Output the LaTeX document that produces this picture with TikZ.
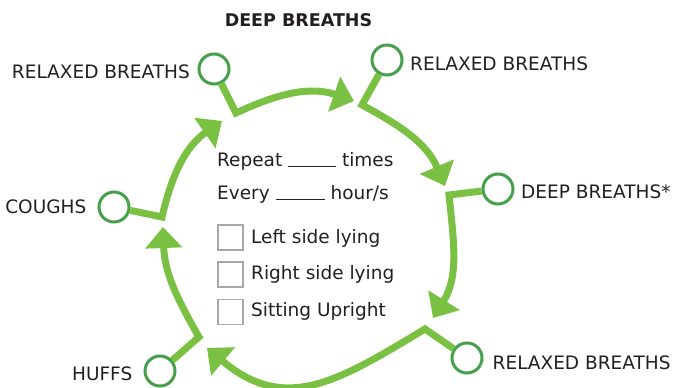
\documentclass[tikz,border=0pt]{standalone}
\usepackage{fontspec}
\setmainfont{DejaVu Sans}
\usetikzlibrary{arrows.meta, positioning}
\definecolor{leaf}{HTML}{7AC143}
\definecolor{moss}{HTML}{46A04A}
\definecolor{ink}{HTML}{231F20}
\definecolor{boxgray}{HTML}{A8A8A8}
\tikzset{flow/.style = {leaf, line width=7pt, line join=miter, -{Triangle[length=21pt, width=36pt]}}}
\tikzset{stage/.style = {circle, draw=moss, line width=3pt, minimum size=30pt, inner sep=0pt}}
\tikzset{lbl/.style = {inner sep=0pt, text=ink, font=\fontsize{18.5}{22}\selectfont}}
\tikzset{chkbox/.style = {draw=boxgray, line width=1.5pt, minimum size=25pt, inner sep=0pt}}

\begin{document}
\begin{tikzpicture}[x=1pt, y=1pt]
\useasboundingbox (0,0) rectangle (673,388);
% stages round the cycle
\node[stage] (c1) at (214,319) {};
\node[stage] (c2) at (387,328) {};
\node[stage] (c3) at (498,199) {};
\node[stage] (c4) at (467,30) {};
\node[stage] (c5) at (160,17) {};
\node[stage] (c6) at (114,181) {};
\coordinate (k1) at (236,275);
\coordinate (k2) at (362,283);
\coordinate (k3) at (449,193);
\coordinate (k4) at (425,59);
\coordinate (k5) at (199,51);
\coordinate (k6) at (162,171);
\coordinate (t1) at (354,287);
\coordinate (t2) at (445,202);
\coordinate (t3) at (433,70);
\coordinate (t4) at (207,40);
\coordinate (t5) at (163,161);
\coordinate (t6) at (222,267);
% arrows
\draw[flow] (c1) -- (k1) to[out=25, in=161] (t1);
\draw[flow] (c2) -- (k2) to[out=-28, in=113] (t2);
\draw[flow] (c3) -- (k3) to[out=-84, in=58] (t3);
\draw[flow] (c4) -- (k4) to[out=211, in=-40, looseness=1.2] (t4);
\draw[flow] (c5) -- (k5) to[out=120, in=-88] (t5);
\draw[flow] (c6) -- (k6) to[out=77, in=215] (t6);
% labels
\node[lbl, font=\fontsize{17.5}{21}\selectfont\bfseries] (title) at (298.5,368) {DEEP BREATHS};
\node[lbl, left=7.5pt of c1, yshift=-3pt] (l1) {RELAXED BREATHS};
\node[lbl, right=6.5pt of c2, yshift=-4pt] (l2) {RELAXED BREATHS};
\node[lbl, right=6.5pt of c3, yshift=-3pt] (l3) {DEEP BREATHS*};
\node[lbl, right=9pt of c4, yshift=-5pt] (l4) {RELAXED BREATHS};
\node[lbl, left=11pt of c5, yshift=-3pt] (l5) {HUFFS};
\node[lbl, left=11pt of c6] (l6) {COUGHS};
% middle
\node[lbl, anchor=base west] (rep) at (217,221) {Repeat \rule[-0.3pt]{48pt}{1.2pt} times};
\node[lbl, anchor=base west] (evy) at (217,188.5) {Every \rule[-0.3pt]{49pt}{1.2pt} hour/s};
\node[chkbox] (b1) at (230.7,150.6) {};
\node[chkbox] (b2) at (230.7,113.3) {};
\node[chkbox] (b3) at (230.7,76) {};
\node[lbl, anchor=base west] (o1) at (251,144) {Left side lying};
\node[lbl, anchor=base west] (o2) at (251,108) {Right side lying};
\node[lbl, anchor=base west] (o3) at (251,71.3) {Sitting Upright};
\end{tikzpicture}
\end{document}
